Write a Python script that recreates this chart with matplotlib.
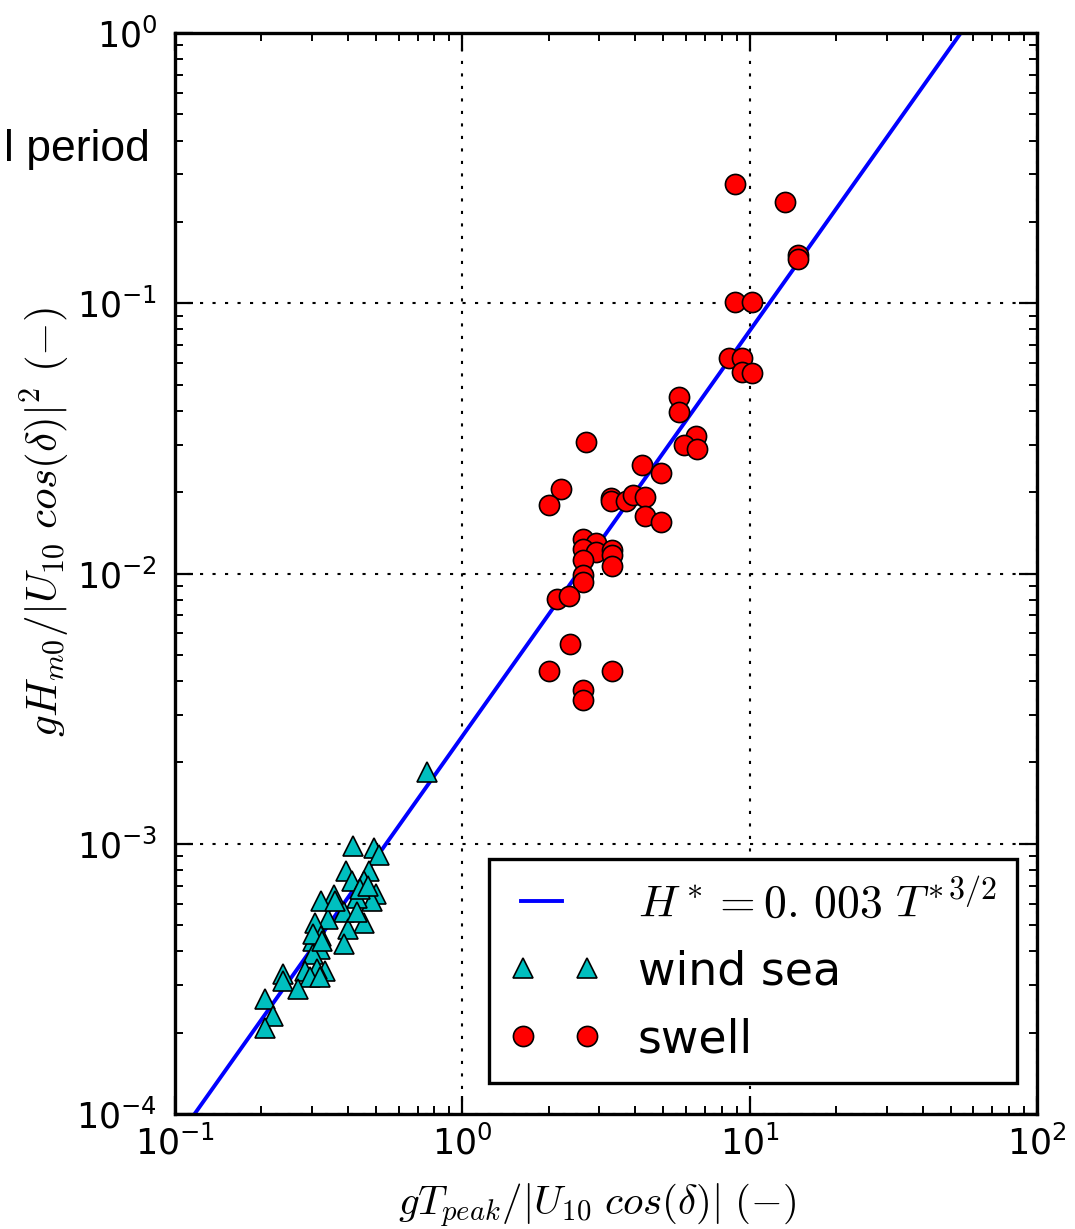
import numpy as np
import matplotlib
matplotlib.use("Agg")
import matplotlib.pyplot as plt
from matplotlib.legend_handler import HandlerLine2D

# ---- data ----
wind_x = [0.753, 0.416, 0.491, 0.514, 0.394, 0.475, 0.412, 0.453, 0.500, 0.485,
          0.359, 0.322, 0.386, 0.453, 0.342, 0.307, 0.400, 0.322, 0.303, 0.386,
          0.320, 0.303, 0.333, 0.312, 0.284, 0.295, 0.320, 0.238, 0.238, 0.269,
          0.205, 0.219, 0.206, 0.360, 0.430, 0.303, 0.324, 0.440, 0.470, 0.430]
wind_y = [0.00184, 0.000983, 0.000964, 0.000910, 0.000794, 0.000791, 0.000729, 0.000729, 0.000651, 0.000615,
          0.000647, 0.000613, 0.000557, 0.000511, 0.000526, 0.000511, 0.000483, 0.000456, 0.000437, 0.000425,
          0.000407, 0.000390, 0.000339, 0.000343, 0.000339, 0.000320, 0.000320, 0.000329, 0.000311, 0.000290,
          0.000266, 0.000231, 0.000208, 0.000615, 0.000630, 0.000465, 0.000437, 0.000680, 0.000700, 0.000560]

swell_x = [8.87, 13.3, 14.7, 14.7, 8.87, 10.2, 8.5, 9.38, 9.4, 10.2,
           5.66, 5.66, 6.53, 5.89, 6.55, 2.70, 4.21, 4.90, 2.21, 2.01,
           3.30, 3.30, 3.70, 3.94, 4.31, 4.31, 4.90, 2.62, 2.93, 2.62,
           2.93, 3.33, 3.33, 2.62, 3.33, 2.63, 2.63, 2.13, 2.36, 2.37,
           2.01, 3.33, 2.62, 2.62]
swell_y = [0.276, 0.237, 0.151, 0.146, 0.101, 0.101, 0.0626, 0.0626, 0.0556, 0.055,
           0.0449, 0.0395, 0.0322, 0.0298, 0.0288, 0.0306, 0.0251, 0.0235, 0.0205, 0.0180,
           0.0190, 0.0186, 0.0186, 0.0195, 0.0192, 0.0163, 0.0155, 0.0134, 0.0130, 0.0123,
           0.0120, 0.0122, 0.0117, 0.0112, 0.0107, 0.00984, 0.00927, 0.00808, 0.00829, 0.00550,
           0.00437, 0.00437, 0.00372, 0.00341]

fit_coef = 0.0025
fit_exp = 1.5
fit_label = r"$H^*=0.\,003\ T^{*\,3/2}$"
labels = ["wind sea", "swell"]

# ---- style ----
plt.rcParams["mathtext.fontset"] = "cm"
plt.rcParams["axes.unicode_minus"] = False
plt.rcParams["font.family"] = ["DejaVu Sans"]

fig = plt.figure(figsize=(10.75, 12.29), dpi=100)
ax = fig.add_axes([175/1075, 1 - 1114/1229, 862/1075, 1081/1229])

T = np.logspace(-1, 2, 300)
line, = ax.plot(T, fit_coef * T**fit_exp, color="#0000ff", lw=2.8, label=fit_label, zorder=2)
w, = ax.plot(wind_x, wind_y, ls="none", marker="^", ms=15, mfc="#00bfbf", mec="black",
             mew=1.2, label=labels[0], zorder=3)
s, = ax.plot(swell_x, swell_y, ls="none", marker="o", ms=14.5, mfc="#ff0000", mec="black",
             mew=1.2, label=labels[1], zorder=4)

ax.set_xscale("log")
ax.set_yscale("log")
ax.set_xlim(0.1, 100)
ax.set_ylim(1e-4, 1)

ax.grid(True, which="major", color="black", ls=(0, (1.5, 4.5)), lw=1.5)
ax.set_axisbelow(True)

for sp in ax.spines.values():
    sp.set_linewidth(2.4)

ax.tick_params(which="both", direction="in", top=True, right=True)
ax.tick_params(which="major", length=13, width=1.6, labelsize=25)
ax.tick_params(which="minor", length=6, width=1.4)
ax.tick_params(axis="x", which="major", pad=8)
ax.tick_params(axis="y", which="major", pad=13)

ax.set_xlabel(r"$gT_{peak}/|U_{10}\ cos(\delta)|\ (-)$", fontsize=29.5, va="center")
ax.xaxis.set_label_coords(0.49, -0.085)
ax.set_ylabel(r"$gH_{m0}/|U_{10}\ cos(\delta)|^2\ (-)$", fontsize=31, va="center")
ax.yaxis.set_label_coords(-0.151, 0.548)


class ShortLineHandler(HandlerLine2D):
    def get_xdata(self, legend, xdescent, ydescent, width, height, fontsize):
        x0 = -xdescent + 0.25 * fontsize
        xd = np.array([x0, x0 + 0.9 * fontsize])
        return xd, xd


leg = ax.legend(handles=[line, w, s], loc="lower right",
                bbox_to_anchor=((1017 - 175) / 862, (1114 - 1083) / 1081),
                numpoints=2, fontsize=33,
                handlelength=2.0, handletextpad=0.8, labelspacing=0.5, borderpad=0.45,
                borderaxespad=0.0, fancybox=False, framealpha=1,
                handler_map={line: ShortLineHandler()})
leg.get_frame().set_edgecolor("black")
leg.get_frame().set_linewidth(2.4)

fig.text(150/1075, 1 - 150/1229, "l period", ha="right", va="center",
         fontsize=32, family=["Liberation Sans", "DejaVu Sans"])

fig.savefig("out.png", dpi=100)
